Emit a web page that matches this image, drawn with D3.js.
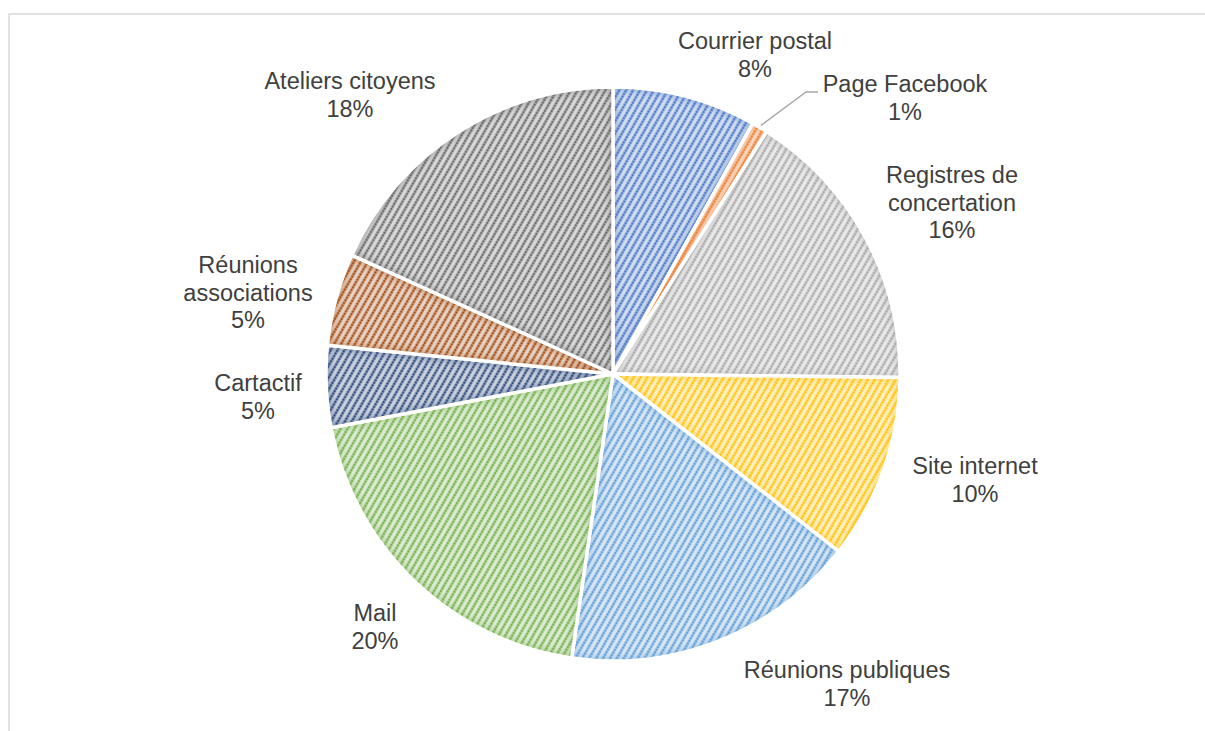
<!DOCTYPE html>
<html>
<head>
<meta charset="utf-8">
<script src="https://cdn.jsdelivr.net/npm/d3@7"></script>
<style>
  body { margin: 0; background: #fff; }
  svg text { font-family: "Liberation Sans", Arial, sans-serif; fill: #404040; }
</style>
</head>
<body>
<div id="canvas"></div>
<script>
let categories = ["Courrier postal", "Page Facebook", "Registres de concertation", "Site internet",
  "Réunions publiques", "Mail", "Cartactif", "Réunions associations", "Ateliers citoyens"]
let values = [8.1, 0.9, 16.2, 10.4, 16.7, 19.7, 4.6, 5.2, 18.2]
let colors = ["#4472C4", "#ED7D31", "#A5A5A5", "#FFC000", "#5B9BD5", "#70AD47", "#264478", "#9E480E", "#636363"]

// label text lines (category split where Excel wraps it) and where each block sits
let labelLines = [["Courrier postal"], ["Page Facebook"], ["Registres de", "concertation"], ["Site internet"],
  ["Réunions publiques"], ["Mail"], ["Cartactif"], ["Réunions", "associations"], ["Ateliers citoyens"]]
let labelPos = [[755, 49], [905, 92], [952, 183], [975, 474], [847, 678], [375, 621], [258, 391], [248, 273], [350, 89]]

let svg = {}
let W = 1205, H = 731
let cx = 613, cy = 374, radius = 287

window.onload = function () { setup() }

function setup() {
  svg = d3.select("#canvas").append("svg").attr("width", W).attr("height", H)

  svg.append("rect")
    .attr("x", 9).attr("y", 14).attr("width", W).attr("height", H)
    .attr("fill", "none").attr("stroke", "#d9d9d9").attr("stroke-width", 1.5)

  setupPatterns()
  drawPie()
}

function setupPatterns() {
  let defs = svg.append("defs")

  defs.append("filter").attr("id", "soft")
    .attr("x", "-10%").attr("y", "-10%").attr("width", "120%").attr("height", "120%")
    .append("feGaussianBlur").attr("stdDeviation", 3)

  colors.forEach((c, i) => {
    let bg = d3.interpolateRgb(c, "#ffffff")(0.75)
    let p = defs.append("pattern")
      .attr("id", "pat" + i)
      .attr("patternUnits", "userSpaceOnUse")
      .attr("width", 6).attr("height", 6)
      .attr("patternTransform", "rotate(30)")
    p.append("rect").attr("width", 6).attr("height", 6).attr("fill", bg)
    p.append("line")
      .attr("x1", 1.5).attr("x2", 1.5).attr("y1", 0).attr("y2", 6)
      .attr("stroke", c).attr("stroke-width", 2.2)
      .attr("stroke-dasharray", "2.5 0.5")
  })
}

function drawPie() {
  let pie = d3.pie().sort(null).value(d => d)
  let arcs = pie(values)
  let arc = d3.arc().innerRadius(0).outerRadius(radius)
  let edge = d3.arc().innerRadius(radius).outerRadius(radius)

  let g = svg.append("g").attr("transform", `translate(${cx},${cy})`)
  let defs = svg.select("defs")

  arcs.forEach((a, i) => {
    defs.append("clipPath").attr("id", "clip" + i)
      .append("path").attr("d", arc(a))
  })

  let slices = g.selectAll("g.slice")
    .data(arcs)
    .join("g")
    .attr("class", "slice")

  slices.append("path")
    .attr("d", arc)
    .attr("fill", (d, i) => `url(#pat${i})`)

  // soft darker rim inside each slice
  slices.append("path")
    .attr("d", arc)
    .attr("fill", "none")
    .attr("stroke", (d, i) => colors[i])
    .attr("stroke-width", 7)
    .attr("opacity", 0.4)
    .attr("filter", "url(#soft)")
    .attr("clip-path", (d, i) => `url(#clip${i})`)

  slices.append("path")
    .attr("d", arc)
    .attr("fill", "none")
    .attr("stroke", "#ffffff")
    .attr("stroke-width", 3.5)
    .attr("stroke-linejoin", "round")

  // leader line for the thin Facebook slice
  let fb = arcs[1]
  let p0 = edge.centroid(fb)
  let lx = labelPos[1][0] - cx - 99, ly = labelPos[1][1] - cy
  g.append("polyline")
    .attr("points", [[p0[0] + 1, p0[1] - 2], [lx, ly], [lx + 12, ly]].map(p => p.join(",")).join(" "))
    .attr("fill", "none").attr("stroke", "#a6a6a6").attr("stroke-width", 1.5)

  let fmt = d3.format(".0f")
  let total = d3.sum(values)
  let lineH = 27.5

  let labels = svg.selectAll("text.label")
    .data(arcs)
    .join("text")
    .attr("class", "label")
    .attr("text-anchor", "middle")
    .attr("font-size", 23.5)

  labels.each(function (d, i) {
    let t = d3.select(this)
    let lines = labelLines[i].concat([fmt(d.value / total * 100) + "%"])
    lines.forEach((s, k) => {
      t.append("tspan")
        .attr("x", labelPos[i][0])
        .attr("y", labelPos[i][1] + k * lineH)
        .text(s)
    })
  })
}
</script>
</body>
</html>
